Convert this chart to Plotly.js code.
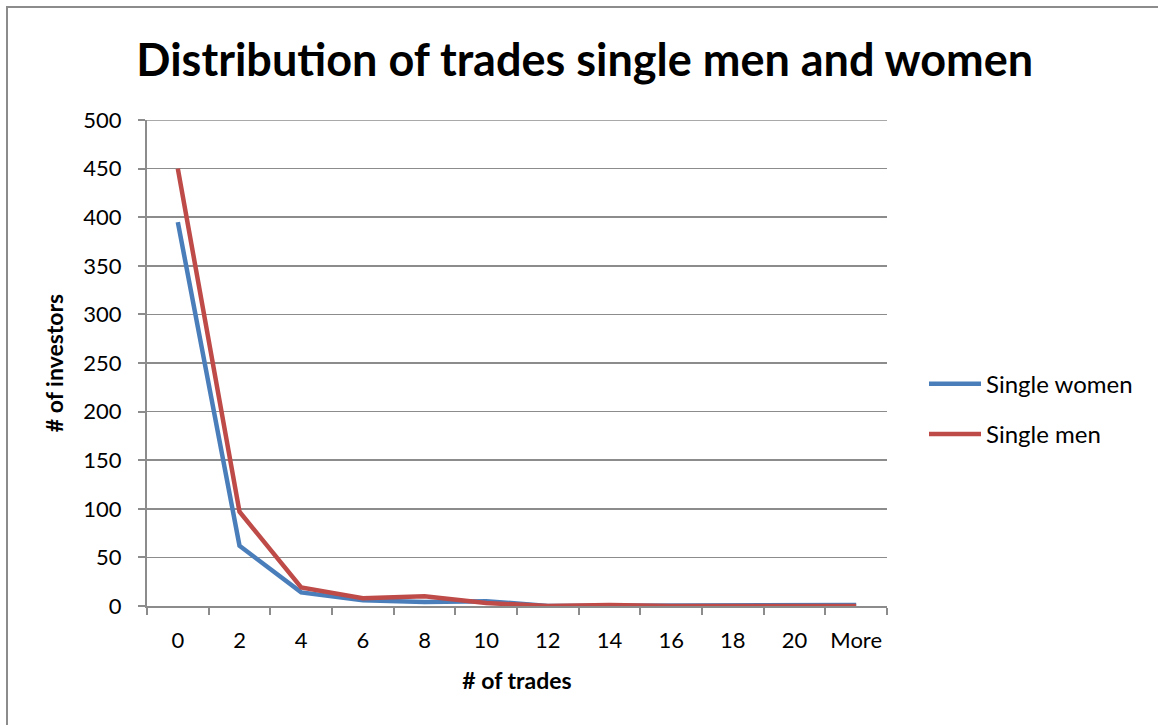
<!DOCTYPE html>
<html>
<head>
<meta charset="utf-8">
<script src="https://cdn.plot.ly/plotly-3.0.1.min.js"></script>
<style>
html,body{margin:0;padding:0;background:#fff;}
#chart{width:1158px;height:725px;position:relative;}
#frame{position:absolute;left:6px;top:6px;width:1200px;height:800px;border-left:2px solid #8c8c8c;border-top:2px solid #8c8c8c;pointer-events:none;}
</style>
</head>
<body>
<div id="chart"></div>
<div id="frame"></div>
<script>
const categories = ["0","2","4","6","8","10","12","14","16","18","20","More"];
const singleWomen = [395, 62, 14, 6, 4, 5, 0, 0, 0, 1, 0, 1];
const singleMen   = [450, 97, 19, 8, 10, 3, 0, 1, 0, 0, 1, 0];
const yTicks = [0, 50, 100, 150, 200, 250, 300, 350, 400, 450, 500];

const font = "Lato, Open Sans, sans-serif";

const traces = [
  {x: categories, y: singleWomen, name: "Single women", type: "scatter", mode: "lines",
   legendgroup: "w", line: {color: "#4A7EBB", width: 4.5}},
  {x: categories, y: singleMen, name: "Single men", type: "scatter", mode: "lines",
   legendgroup: "m", line: {color: "#BE4B48", width: 4.5}}
];

const layout = {
  width: 1158, height: 725,
  margin: {l: 147, r: 271, t: 120, b: 119},
  paper_bgcolor: "#fff", plot_bgcolor: "#fff",
  font: {family: font, color: "#000", size: 22},
  title: {text: "<b>Distribution of trades single men and women</b>",
          font: {family: font, size: 45, color: "#000"},
          x: 0.505, xanchor: "center", y: 0.917, yanchor: "middle"},
  xaxis: {
    type: "category", categoryorder: "array", categoryarray: categories,
    tickson: "boundaries", ticks: "outside", ticklen: 7, tickwidth: 2, tickcolor: "#8c8c8c",
    showline: true, linecolor: "#8c8c8c", linewidth: 2,
    showgrid: false, zeroline: false,
    tickangle: 0,
    tickfont: {family: font, size: 22},
    ticklabelstandoff: 14,
    title: {text: "<b># of trades</b>", font: {family: font, size: 23}, standoff: 20},
    range: [-0.5, 11.5]
  },
  yaxis: {
    range: [0, 500], tickvals: yTicks, ticktext: yTicks.map(String),
    ticks: "outside", ticklen: 7, tickwidth: 2, tickcolor: "#8c8c8c",
    showline: true, linecolor: "#8c8c8c", linewidth: 2,
    showgrid: true, gridcolor: "#8c8c8c", gridwidth: 1.5,
    zeroline: false,
    tickfont: {family: font, size: 22},
    ticklabelstandoff: 12,
    title: {text: "<b># of investors</b>", font: {family: font, size: 23}, standoff: 13}
  },
  shapes: [
    {type: "line", xref: "paper", yref: "y", x0: 0, x1: 1, y0: 500, y1: 500,
     line: {color: "#8c8c8c", width: 1.5}, layer: "below"}
  ],
  legend: {x: 1.05, xanchor: "left", y: 0.405, yanchor: "middle",
           font: {family: font, size: 24}, traceorder: "grouped", tracegroupgap: 16,
           itemwidth: 52, bgcolor: "rgba(0,0,0,0)"},
  showlegend: true
};

Plotly.newPlot("chart", traces, layout, {displayModeBar: false, staticPlot: true});
</script>
</body>
</html>
